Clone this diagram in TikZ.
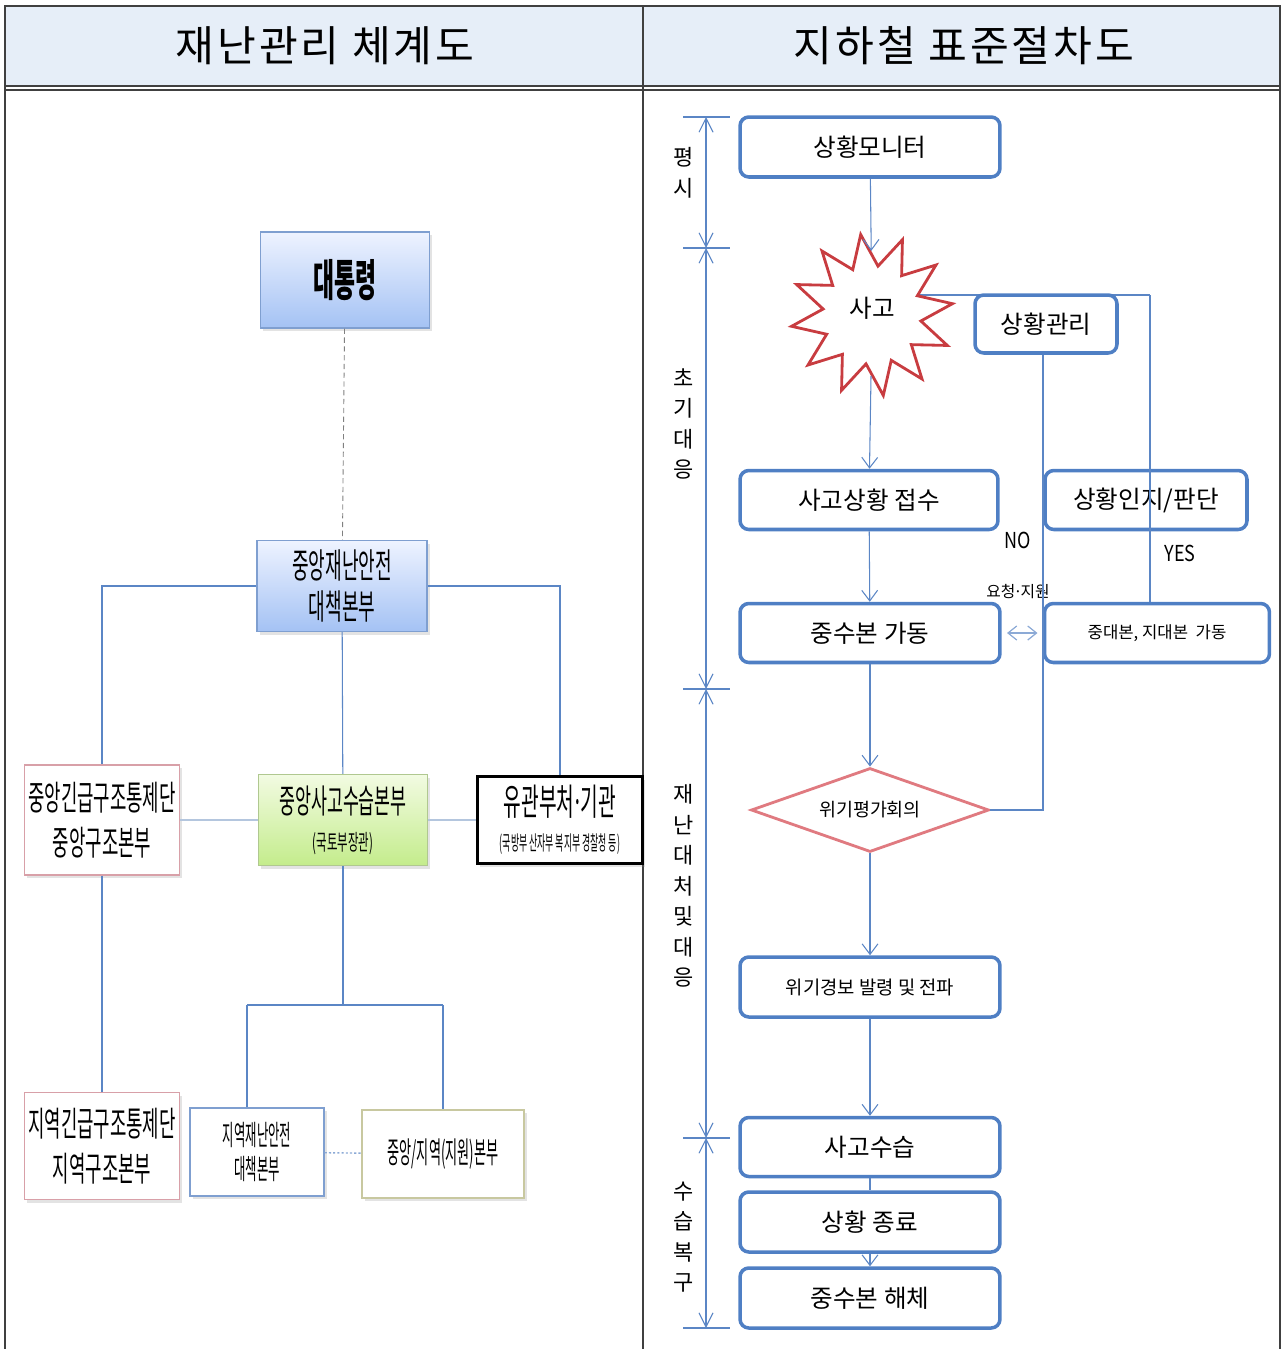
\documentclass[tikz,border=0pt]{standalone}
\usepackage{fontspec}
\setmainfont{Noto Sans CJK KR}
\newfontfamily\krfont{Noto Sans CJK KR}
\newfontfamily\krtitle[LetterSpace=7]{Noto Sans CJK KR}
\newfontfamily\krnarrow[FakeStretch=0.82]{Noto Sans CJK KR}
\newfontfamily\krcond[FakeStretch=0.52]{Noto Sans CJK KR}
\newfontfamily\krtight[FakeStretch=0.44]{Noto Sans CJK KR}
\newcommand{\dotsep}[1]{\kern-#1·\kern-#1}
\usetikzlibrary{shapes,shapes.geometric,positioning,calc,arrows.meta,shadows,backgrounds}

\definecolor{headfill}{HTML}{E6EEF8}
\definecolor{framegray}{HTML}{404040}
\definecolor{boxblue}{HTML}{4F7FC4}
\definecolor{lineblue}{HTML}{5B86C5}
\definecolor{softblue}{HTML}{B4C6DE}
\definecolor{starred}{HTML}{C83C40}
\definecolor{diamred}{HTML}{E07A80}
\definecolor{orgblue}{HTML}{7F9FD0}
\definecolor{gradtop}{HTML}{EEF3FF}
\definecolor{gradbot}{HTML}{A4C2F4}
\definecolor{greentop}{HTML}{F2FBE2}
\definecolor{greenbot}{HTML}{C4EC8C}
\definecolor{greenedge}{HTML}{B0C890}
\definecolor{pinkedge}{HTML}{D8A0A8}
\definecolor{oliveedge}{HTML}{C8C8A0}

\tikzset{
  frame/.style={draw=framegray, line width=0.9pt},
  stepbox/.style={draw=boxblue, line width=2pt, rounded corners=5pt, fill=white,
    minimum width=5.2cm, minimum height=1.2cm, inner sep=2pt,
    font=\krfont\fontsize{14}{16}\selectfont},
  flow/.style={draw=lineblue, line width=0.6pt, -{Straight Barb[length=6pt,width=9pt]}},
  link/.style={draw=lineblue, line width=0.6pt},
  softlink/.style={draw=softblue, line width=1pt},
  phase/.style={draw=lineblue, line width=0.6pt,
    {Straight Barb[length=8pt,width=8pt]}-{Straight Barb[length=8pt,width=8pt]}},
  phasetext/.style={font=\krfont\fontsize{12.5}{17.4}\selectfont, align=center, inner sep=0pt},
  orgbox/.style={align=center, inner sep=1pt, line width=0.8pt,
    drop shadow={opacity=0.22, shadow xshift=1.5pt, shadow yshift=-1.8pt}},
  bluegrad/.style={draw=orgblue, top color=gradtop, bottom color=gradbot},
  greengrad/.style={draw=greenedge, top color=greentop, bottom color=greenbot}
}

\begin{document}
\begin{tikzpicture}[x=0.02cm, y=-0.02cm]
    \useasboundingbox (0,0) rectangle (1283,1349);

    % Table frame and header
    \fill[headfill] (5,6) rectangle (1280,86);
    \draw[frame] (5,1349) -- (5,6) -- (1280,6) -- (1280,1349);
    \draw[frame] (643,6) -- (643,1349);
    \draw[frame] (5,86) -- (1280,86);
    \draw[frame] (5,90) -- (1280,90);
    \node [font=\krtitle\fontsize{24}{26}\selectfont] (titleL) at (325,46) {재난관리 체계도};
    \node [font=\krtitle\fontsize{24}{26}\selectfont] (titleR) at (964,46) {지하철 표준절차도};

    % Left: organisation chart
    \node [orgbox, bluegrad, minimum width=3.38cm, minimum height=1.92cm,
        font=\krcond\bfseries\fontsize{25}{28}\selectfont] (pres) at (345,280) {대통령};
    \node [orgbox, bluegrad, minimum width=3.4cm, minimum height=1.82cm,
        font=\krcond\fontsize{19.8}{23.8}\selectfont] (jungdae) at (342,586) {중앙재난안전\\대책본부};
    \node [orgbox, draw=pinkedge, fill=white, minimum width=3.1cm, minimum height=2.2cm,
        font=\krcond\fontsize{19.5}{25.5}\selectfont] (jgugup) at (102,820) {중앙긴급구조통제단\\중앙구조본부};
    \node [orgbox, greengrad, minimum width=3.38cm, minimum height=1.82cm,
        font=\krcond\fontsize{19}{22}\selectfont] (jsago) at (343,820)
        {중앙사고수습본부\\[-1pt]{\fontsize{12.5}{14}\selectfont(국토부장관)}};
    \node [orgbox, draw=black, line width=1.2pt, fill=white, minimum width=3.3cm, minimum height=1.74cm,
        font=\krcond\fontsize{21}{22}\selectfont] (yugwan) at (560,820)
        {유관부처\dotsep{0.06em}기관\\[-2pt]{\krtight\fontsize{11.5}{13}\selectfont(국방부 산자부 복지부 경찰청 등)}};
    \node [orgbox, draw=pinkedge, fill=white, minimum width=3.1cm, minimum height=2.14cm,
        font=\krcond\fontsize{19.5}{25.5}\selectfont] (jigugup) at (102,1146) {지역긴급구조통제단\\지역구조본부};
    \node [orgbox, draw=orgblue, fill=white, minimum width=2.68cm, minimum height=1.76cm,
        font=\krtight\fontsize{16}{19}\selectfont] (jidae) at (257,1152) {지역재난안전\\대책본부};
    \node [orgbox, draw=oliveedge, fill=white, minimum width=3.24cm, minimum height=1.76cm,
        font=\krtight\fontsize{17}{19}\selectfont] (jiwon) at (443,1154) {중앙/지역(지원)본부};

    % Left: connections
    \draw [gray, line width=0.5pt, dash pattern=on 3pt off 2pt] (pres) -- (jungdae);
    \draw [link] (jungdae.west) -| (jgugup.north);
    \draw [link] (jungdae.east) -| (yugwan.north);
    \draw [link] (jungdae) -- (jsago);
    \draw [softlink] (jgugup) -- (jsago);
    \draw [softlink] (jsago) -- (yugwan);
    \draw [link] (jgugup) -- (jigugup);
    \coordinate (split) at (343,1005);
    \coordinate (brl) at (247,1005);
    \coordinate (brr) at (443,1005);
    \draw [link] (jsago) -- (split);
    \draw [link] (brl) -- (brr);
    \draw [link] (brl) -- (brl |- jidae.north);
    \draw [link] (brr) -- (jiwon.north);
    \draw [lineblue!70, line width=0.8pt, dash pattern=on 1.2pt off 1.2pt] (jidae) -- (jiwon);

    % Right: phase bracket
    \foreach \ya/\yb in {117/248, 248/689, 689/1138, 1138/1328}
        \draw [phase] (706,\ya) -- (706,\yb);
    \foreach \y in {117, 248, 689, 1138, 1328}
        \draw [link] (683,\y) -- (730,\y);
    \node [phasetext] (ph1) at (684,173) {평\\시};
    \node [phasetext] (ph2) at (684,424) {초\\기\\대\\응};
    \node [phasetext] (ph3) at (684,886) {재\\난\\대\\처\\및\\대\\응};
    \node [phasetext] (ph4) at (684,1237) {수\\습\\복\\구};

    % Right: procedure steps
    \node [stepbox] (mon) at (870,147) {상황모니터};
    \node [star, star points=12, star point ratio=1.65, draw=starred, line width=1.6pt, fill=white,
        minimum size=3.25cm, inner sep=0pt, shape border rotate=8] (sago) at (872,315) {};
    \node [font=\krfont\fontsize{14}{16}\selectfont] (sagotext) at (872,308) {사고};
    \node [stepbox, minimum width=2.84cm, minimum height=1.16cm] (gwanri) at (1046,324) {상황관리};
    \node [stepbox, minimum width=5.16cm, minimum height=1.18cm] (jeopsu) at (869,500) {사고상황 접수};
    \node [stepbox, minimum width=4.04cm, minimum height=1.18cm] (panjdan) at (1146,500) {상황인지/판단};
    \node [stepbox, minimum height=1.18cm] (gadong) at (870,633) {중수본 가동};
    \node [stepbox, minimum width=4.5cm, minimum height=1.18cm,
        font=\krfont\fontsize{9.5}{11}\selectfont] (jidaebon) at (1157,633) {중대본, 지대본\ \ 가동};
    \node [diamond, aspect=2.8, draw=diamred, line width=1.6pt, fill=white, minimum width=4.76cm,
        minimum height=1.68cm, inner sep=0pt, font=\krfont\fontsize{10.5}{12}\selectfont] (hoeui) at (870,810) {위기평가회의};
    \node [stepbox, font=\krfont\fontsize{10.7}{12}\selectfont] (gyeongbo) at (870,987) {위기경보 발령 및 전파};
    \node [stepbox, minimum height=1.18cm] (susup) at (870,1147) {사고수습};
    \node [stepbox] (jongryo) at (870,1222) {상황 종료};
    \node [stepbox] (haeche) at (870,1298) {중수본 해체};

    % Right: branch labels
    \node [font=\krnarrow\fontsize{12.5}{14}\selectfont] (no) at (1018,540) {NO};
    \node [font=\krnarrow\fontsize{12.5}{14}\selectfont] (yes) at (1180,553) {YES};
    \node [font=\krfont\fontsize{9}{10}\selectfont] (yocheong) at (1018,592) {요청\dotsep{0.12em}지원};

    % Right: flow
    \draw [flow] (mon) -- (sago);
    \draw [flow] (sago) -- (jeopsu);
    \draw [flow] (jeopsu) -- (gadong);
    \draw [flow] (gadong) -- (hoeui);
    \draw [flow] (hoeui) -- (gyeongbo);
    \draw [flow] (gyeongbo) -- (susup);
    \draw [link] (susup) -- (jongryo);
    \draw [flow] (jongryo) -- (haeche);
    \coordinate (yesc) at (1150,295);
    \begin{scope}[on background layer]
        \draw [link] (sago.center |- yesc) -- (yesc);
    \end{scope}
    \draw [link] (yesc) -- (yesc |- jidaebon.north);
    \draw [link] ([xshift=-0.06cm]gwanri.south) |- (hoeui.east);
    \draw [draw=lineblue!70, line width=0.7pt, shorten <=3pt, shorten >=3pt,
        {Straight Barb[length=5pt,width=8pt]}-{Straight Barb[length=5pt,width=8pt]}] (gadong) -- (jidaebon);
\end{tikzpicture}
\end{document}
